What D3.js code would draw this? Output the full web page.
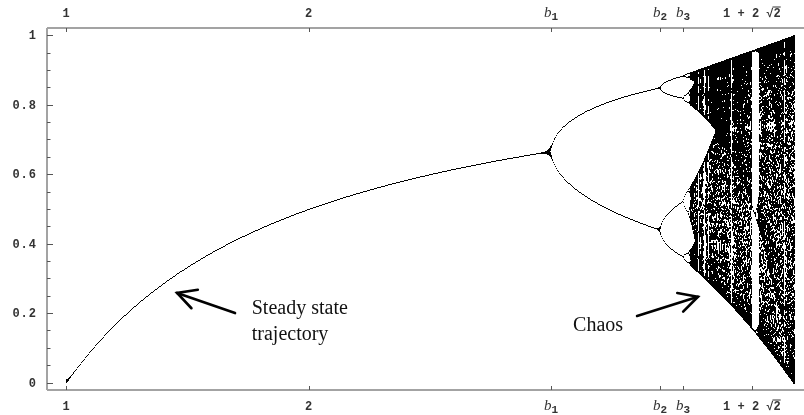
<!DOCTYPE html>
<html>
<head>
<meta charset="utf-8">
<script src="https://cdn.jsdelivr.net/npm/d3@7"></script>
<style>
  html, body { margin: 0; padding: 0; background: #fff; }
  #wrap { position: relative; width: 804px; height: 415px; overflow: hidden; }
  #wrap canvas, #wrap svg { position: absolute; left: 0; top: 0; }
</style>
</head>
<body>
<div id="wrap"></div>
<script>
// Logistic map x -> r x (1 - x): growth-rate range and population range
const rDomain = [1, 4];
const popDomain = [0, 1];

// Iteration settings for the bifurcation diagram
const startValue = [0.3];
const settleSteps = [100];
const keepSteps = [300];

// Horizontal ticks (top and bottom): value, main text, subscript
const rTickValues = [1, 2, 3, 3.4495, 3.5441, 3.8284];
const rTickMain = ["1", "2", "b", "b", "b", "1 + 2 \u221A2"];
const rTickSub = ["", "", "1", "2", "3", ""];
const rTickItalic = [false, false, true, true, true, false];

// Vertical ticks
const popMajorTicks = [0, 0.2, 0.4, 0.6, 0.8, 1];
const popMajorLabels = ["0", "0.2", "0.4", "0.6", "0.8", "1"];
const popMinorTicks = d3.range(0, 1.0001, 0.05);

// Annotations: label lines, label anchor and arrow (tail -> head) in data units
const noteLines = [["Steady state", "trajectory"], ["Chaos"]];
const noteAnchor = [[1.766, 0.197], [3.091, 0.148]];
const noteTail = [[1.697, 0.200], [3.355, 0.1915]];
const noteHead = [[1.458, 0.258], [3.606, 0.247]];

const W = 804, H = 415;
const frame = { left: 47, top: 28, bottom: 390, right: 804 };

const x = d3.scaleLinear().domain(rDomain).range([66, 793.5]);
const y = d3.scaleLinear().domain(popDomain).range([382.5, 35.3]);

const wrap = d3.select("#wrap");

// ---- point cloud on a canvas ----
const canvas = wrap.append("canvas").attr("width", W).attr("height", H).node();
const ctx = canvas.getContext("2d");
ctx.fillStyle = "#000";
const c0 = Math.round(x(rDomain[0])), c1 = Math.round(x(rDomain[1]));
for (let px = c0; px <= c1; px++) {
  const r = Math.min(rDomain[1], x.invert(px));
  let v = startValue[0];
  for (let i = 0; i < settleSteps[0]; i++) v = r * v * (1 - v);
  for (let i = 0; i < keepSteps[0]; i++) {
    v = r * v * (1 - v);
    ctx.fillRect(px, Math.round(y(v)), 1, r > 3.57 ? 2 : 1);
  }
}

// ---- axes, frame and labels ----
const svg = wrap.append("svg").attr("width", W).attr("height", H);
const grey = "#a3a3a3";
const tickCol = "#555";
const mono = "'Liberation Mono', 'DejaVu Sans Mono', monospace";

svg.append("line").attr("x1", frame.left).attr("x2", frame.right)
  .attr("y1", frame.top).attr("y2", frame.top)
  .attr("stroke", grey).attr("stroke-width", 2);
svg.append("line").attr("x1", frame.left).attr("x2", frame.right)
  .attr("y1", frame.bottom).attr("y2", frame.bottom)
  .attr("stroke", grey).attr("stroke-width", 2);
svg.append("line").attr("x1", frame.left).attr("x2", frame.left)
  .attr("y1", frame.top).attr("y2", frame.bottom)
  .attr("stroke", grey).attr("stroke-width", 2);

// y ticks
svg.selectAll(".ymin").data(popMinorTicks).join("line")
  .attr("x1", frame.left).attr("x2", frame.left + 3.5)
  .attr("y1", d => Math.round(y(d)) + 0.5).attr("y2", d => Math.round(y(d)) + 0.5)
  .attr("stroke", tickCol).attr("stroke-width", 1);
svg.selectAll(".ymaj").data(popMajorTicks).join("line")
  .attr("x1", frame.left).attr("x2", frame.left + 6)
  .attr("y1", d => Math.round(y(d)) + 0.5).attr("y2", d => Math.round(y(d)) + 0.5)
  .attr("stroke", tickCol).attr("stroke-width", 1);
svg.selectAll(".ylab").data(popMajorTicks).join("text")
  .attr("x", 37).attr("y", d => y(d) + 4)
  .attr("text-anchor", "end")
  .attr("font-family", mono).attr("font-size", 12).attr("font-weight", "bold")
  .attr("letter-spacing", 1).attr("fill", "#333")
  .text((d, i) => popMajorLabels[i]);

// x ticks top and bottom
const rIdx = d3.range(rTickValues.length);
svg.selectAll(".xt").data(rIdx).join("line")
  .attr("x1", i => Math.round(x(rTickValues[i])) + 0.5)
  .attr("x2", i => Math.round(x(rTickValues[i])) + 0.5)
  .attr("y1", frame.top).attr("y2", frame.top + 4)
  .attr("stroke", tickCol).attr("stroke-width", 1);
svg.selectAll(".xb").data(rIdx).join("line")
  .attr("x1", i => Math.round(x(rTickValues[i])) + 0.5)
  .attr("x2", i => Math.round(x(rTickValues[i])) + 0.5)
  .attr("y1", frame.bottom).attr("y2", frame.bottom - 4)
  .attr("stroke", tickCol).attr("stroke-width", 1);

function rLabels(baseY) {
  const t = svg.selectAll(null).data(rIdx).join("text")
    .attr("x", i => x(rTickValues[i]))
    .attr("y", baseY)
    .attr("text-anchor", "middle")
    .attr("fill", "#333");
  t.each(function (i) {
    const el = d3.select(this);
    if (rTickItalic[i]) {
      el.append("tspan").text(rTickMain[i])
        .attr("font-family", "'Liberation Serif', serif")
        .attr("font-style", "italic").attr("font-size", 15);
      el.append("tspan").text(rTickSub[i])
        .attr("font-family", mono).attr("font-weight", "bold")
        .attr("font-size", 11).attr("dy", 3);
    } else {
      el.append("tspan").text(rTickMain[i])
        .attr("font-family", mono).attr("font-weight", "bold")
        .attr("font-size", 12);
    }
  });
  // overbar on the radicand of the square root label
  t.filter(i => rTickMain[i].includes("\u221A")).each(function (i) {
    const n = rTickMain[i].length;
    const ext = this.getExtentOfChar(n - 1);
    const root = this.getExtentOfChar(n - 2);
    svg.append("line")
      .attr("x1", root.x + root.width - 1).attr("x2", ext.x + ext.width)
      .attr("y1", ext.y).attr("y2", ext.y)
      .attr("stroke", "#333").attr("stroke-width", 1);
  });
}
rLabels(17);
rLabels(410);

// annotations
const serif = "'Liberation Serif', 'Times New Roman', serif";
noteLines.forEach((lines, k) => {
  const t = svg.append("text")
    .attr("x", x(noteAnchor[k][0])).attr("y", y(noteAnchor[k][1]))
    .attr("font-family", serif).attr("font-size", 20).attr("fill", "#111");
  lines.forEach((s, j) => {
    t.append("tspan").attr("x", x(noteAnchor[k][0])).attr("dy", j === 0 ? 0 : 26).text(s);
  });

  const x1 = x(noteTail[k][0]), y1 = y(noteTail[k][1]);
  const x2 = x(noteHead[k][0]), y2 = y(noteHead[k][1]);
  const ang = Math.atan2(y2 - y1, x2 - x1);
  const arm = 21, spread = Math.PI / 6.5;
  svg.append("line").attr("x1", x1).attr("y1", y1).attr("x2", x2).attr("y2", y2)
    .attr("stroke", "#000").attr("stroke-width", 2.6).attr("stroke-linecap", "round");
  svg.append("polyline")
    .attr("points", [
      [x2 - arm * Math.cos(ang - spread), y2 - arm * Math.sin(ang - spread)],
      [x2, y2],
      [x2 - arm * Math.cos(ang + spread), y2 - arm * Math.sin(ang + spread)]
    ].map(p => p.join(",")).join(" "))
    .attr("fill", "none").attr("stroke", "#000").attr("stroke-width", 2.6)
    .attr("stroke-linecap", "round").attr("stroke-linejoin", "miter");
});
</script>
</body>
</html>
